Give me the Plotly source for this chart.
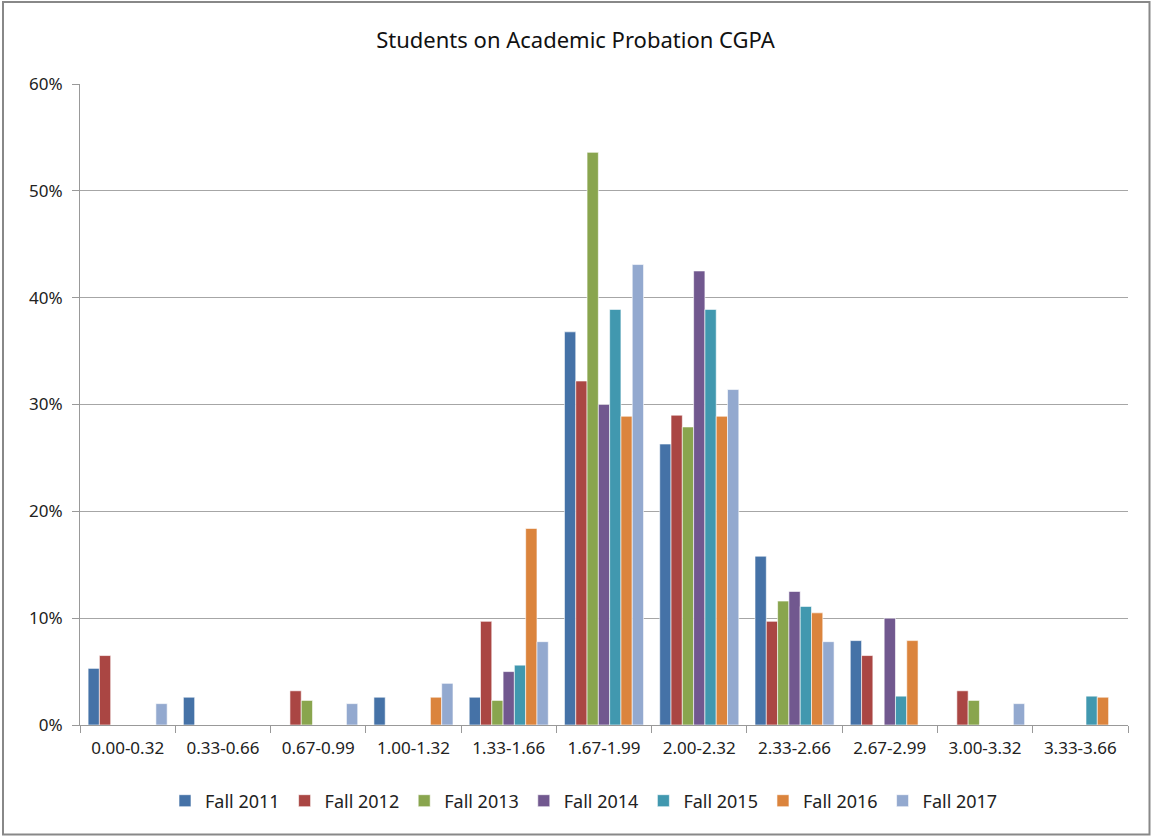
import plotly.graph_objects as go

# Data (percent of students)
CATEGORIES = ['0.00-0.32', '0.33-0.66', '0.67-0.99', '1.00-1.32', '1.33-1.66',
              '1.67-1.99', '2.00-2.32', '2.33-2.66', '2.67-2.99', '3.00-3.32',
              '3.33-3.66']

FALL_2011 = [5.3, 2.6, 0, 2.6, 2.6, 36.8, 26.3, 15.8, 7.9, 0, 0]
FALL_2012 = [6.5, 0, 3.2, 0, 9.7, 32.2, 29.0, 9.7, 6.5, 3.2, 0]
FALL_2013 = [0, 0, 2.3, 0, 2.3, 53.6, 27.9, 11.6, 0, 2.3, 0]
FALL_2014 = [0, 0, 0, 0, 5.0, 30.0, 42.5, 12.5, 10.0, 0, 0]
FALL_2015 = [0, 0, 0, 0, 5.6, 38.9, 38.9, 11.1, 2.7, 0, 2.7]
FALL_2016 = [0, 0, 0, 2.6, 18.4, 28.9, 28.9, 10.5, 7.9, 0, 2.6]
FALL_2017 = [2.0, 0, 2.0, 3.9, 7.8, 43.1, 31.4, 7.8, 0, 2.0, 0]

SERIES = [
    ('Fall 2011', FALL_2011, '#4572A7'),
    ('Fall 2012', FALL_2012, '#AA4643'),
    ('Fall 2013', FALL_2013, '#89A54E'),
    ('Fall 2014', FALL_2014, '#71588F'),
    ('Fall 2015', FALL_2015, '#4198AF'),
    ('Fall 2016', FALL_2016, '#DB843D'),
    ('Fall 2017', FALL_2017, '#93A9CF'),
]

FONT = 'Noto Sans, Open Sans, sans-serif'

fig = go.Figure()
for name, values, color in SERIES:
    fig.add_trace(
        go.Bar(x=CATEGORIES,
               y=[v / 100 for v in values],
               name=name,
               marker=dict(color=color, line=dict(color='white', width=0.6)))
    )

# plot area: x 80..1128, y 84..725 in a 1151x836 page
ml, mr, mt, mb = 80, 23, 84, 111
pw, ph = 1151 - ml - mr, 836 - mt - mb

fig.update_layout(
    width=1151, height=836,
    margin=dict(l=ml, r=mr, t=mt, b=mb),
    paper_bgcolor='white', plot_bgcolor='white',
    font=dict(family=FONT, size=16, color='#222222'),
    title=dict(text='Students on Academic Probation CGPA',
               x=0.5, xanchor='center', y=1 - 40 / 836, yanchor='middle',
               font=dict(size=22, color='#111111')),
    barmode='group', bargap=0.17, bargroupgap=0,
    showlegend=True,
    legend=dict(orientation='h', x=(584 - ml) / pw, xanchor='center',
                y=(725 - 801) / ph, yanchor='middle',
                font=dict(size=18), itemwidth=30, traceorder='normal'),
    xaxis=dict(showline=True, linecolor='#999999', linewidth=1,
               ticks='outside', tickson='boundaries', ticklen=7,
               tickcolor='#999999', showgrid=False, ticklabelstandoff=8,
               tickfont=dict(size=17)),
    yaxis=dict(range=[0, 0.6], dtick=0.1, tickformat='.0%',
               showline=True, linecolor='#999999', linewidth=1,
               gridcolor='#A6A6A6', gridwidth=1, zeroline=False,
               ticks='outside', ticklen=7, tickcolor='#999999',
               ticklabelstandoff=6, tickfont=dict(size=17)),
    shapes=[dict(type='rect', xref='paper', yref='paper',
                 x0=(3 - ml) / pw, x1=(1149.5 - ml) / pw,
                 y0=(725 - 834.5) / ph, y1=(725 - 2) / ph,
                 line=dict(color='#888888', width=2), layer='below')],
)

fig.write_html("out.html", config={'displayModeBar': False},
               post_script="document.body.style.margin='0';")
